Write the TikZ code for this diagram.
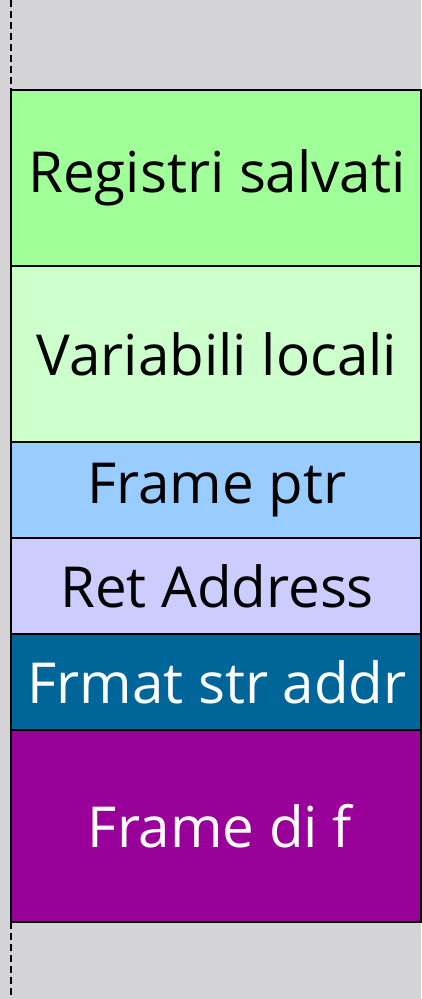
\documentclass[tikz,border=0pt]{standalone}
\usepackage{fontspec}
\setmainfont{Open Sans}
\definecolor{bggray}{HTML}{D4D4D6}
\definecolor{cregs}{HTML}{A0FF98}
\definecolor{cvars}{HTML}{CCFFCC}
\definecolor{cfp}{HTML}{99CCFF}
\definecolor{cret}{HTML}{CCCCFF}
\definecolor{cfmt}{HTML}{006699}
\definecolor{cframe}{HTML}{990099}
\begin{document}
\begin{tikzpicture}[x=1pt,y=-1pt,
  slot/.style={draw=black,line width=1.5pt},
  lbl/.style={font=\fontsize{56.5}{56.5}\selectfont,inner sep=0pt},
  axis/.style={line width=1.8pt,dash pattern=on 7pt off 4pt}]
  \fill[bggray] (0,0) rectangle (421,999);
  \useasboundingbox (0,0) rectangle (421,999);
  % stack slots, top to bottom
  \filldraw[slot,fill=cregs]  (11,90)  rectangle (421,266);
  \filldraw[slot,fill=cvars]  (11,266) rectangle (421,442);
  \filldraw[slot,fill=cfp]    (11,442) rectangle (421,538);
  \filldraw[slot,fill=cret]   (11,538) rectangle (421,634);
  \filldraw[slot,fill=cfmt]   (11,634) rectangle (421,730);
  \filldraw[slot,fill=cframe] (11,730) rectangle (421,922);
  \node[lbl] (regs)  at (217,178) {Registri salvati};
  \node[lbl] (vars)  at (217,354) {Variabili locali};
  \node[lbl] (fp)    at (217,490) {Frame ptr};
  \node[lbl] (ret)   at (217,586) {Ret Address};
  \node[lbl,text=white] (fmt)   at (217,682) {Frmat str addr};
  \node[lbl,text=white] (frame) at (220,826) {Frame di f};
  % stack axis continuing above and below
  \draw[axis] (11,0) -- (11,90);
  \draw[axis] (11,922) -- (11,999);
\end{tikzpicture}
\end{document}
